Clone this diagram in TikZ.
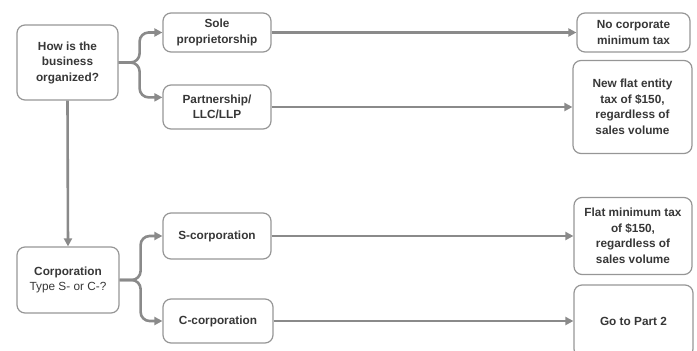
\documentclass[tikz,border=0pt]{standalone}
\usepackage{fontspec}
\setmainfont{Liberation Sans}
\usetikzlibrary{arrows.meta}
\definecolor{linegray}{RGB}{138,138,138}
\definecolor{boxgray}{RGB}{150,150,150}
\definecolor{textgray}{RGB}{55,55,55}
\begin{document}
\begin{tikzpicture}[x=1pt, y=-1pt,
	box/.style={draw=boxgray, line width=1.2pt, rounded corners=8pt, align=center,
		font=\fontsize{11.8}{15.5}\selectfont\bfseries, text=textgray, inner sep=2pt},
	link/.style={draw=linegray, line width=2.6pt, -{Triangle[length=8pt,width=8pt]}},
	fork/.style={link, rounded corners=9pt}]
			\useasboundingbox (0,0) rectangle (697,351);
			
			\node [box, minimum width=101pt, minimum height=75pt] (how) at (67.5,62.5) {How is the\\business\\organized?};
			\node [box, minimum width=108pt, minimum height=39pt] (sole) at (217,32.5) {Sole\\proprietorship};
			\node [box, minimum width=108pt, minimum height=44pt] (part) at (217,107) {Partnership/\\LLC/LLP};
			\node [box, minimum width=102pt, minimum height=66pt] (corp) at (68,280) {Corporation\\\mdseries Type S- or C-?};
			\node [box, minimum width=108pt, minimum height=46pt] (scorp) at (217,236) {S-corporation};
			\node [box, minimum width=110pt, minimum height=44pt] (ccorp) at (218,321) {C-corporation};
			
			\node [box, minimum width=113pt, minimum height=39pt] (nomin) at (633.5,32.5) {No corporate\\minimum tax};
			\node [box, minimum width=119pt, minimum height=93pt] (flat) at (632.5,107) {New flat entity\\tax of \$150,\\regardless of\\sales volume};
			\node [box, minimum width=118pt, minimum height=77pt] (fmin) at (633,236) {Flat minimum tax\\of \$150,\\regardless of\\sales volume};
			\node [box, minimum width=119pt, minimum height=72pt] (gopart) at (633.5,321) {Go to Part 2};
			
			% forks
			\draw [fork] (how.east) -- ++(21,0) |- (sole.west);
			\draw [fork] (how.east) -- ++(21,0) |- (part.170);
			\draw [fork] (corp.east) -- ++(21,0) |- (scorp.west);
			\draw [fork] (corp.east) -- ++(21,0) |- (ccorp.west);
			
			\draw [link] (how.south) -- (corp.north);
			
			\draw [link] (sole.east) -- (nomin.west);
			\draw [link] (part.east) -- (flat.west);
			\draw [link] (scorp.east) -- (fmin.west);
			\draw [link] (ccorp.east) -- (gopart.west);
		\end{tikzpicture}
\end{document}
